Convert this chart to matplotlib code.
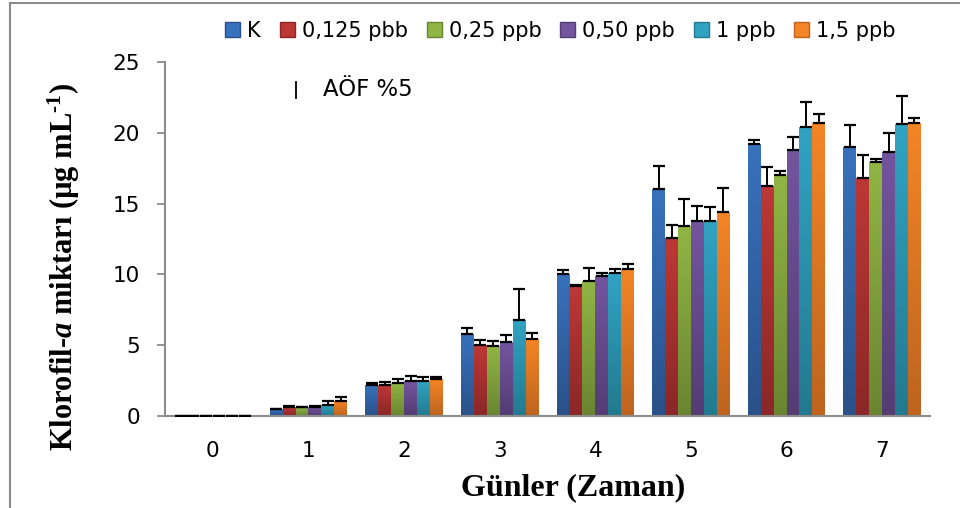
import matplotlib
matplotlib.use("Agg")
import matplotlib.pyplot as plt
from matplotlib.colors import LinearSegmentedColormap
from matplotlib.lines import Line2D
import numpy as np

# ---- data ----
days = ["0", "1", "2", "3", "4", "5", "6", "7"]
groups = ["K", "0,125 pbb", "0,25 ppb", "0,50 ppb", "1 ppb", "1,5 ppb"]

k_vals = [0.03, 0.47, 2.19, 5.79, 10.02, 16.02, 19.20, 19.03]
p0125_vals = [0.03, 0.66, 2.19, 4.99, 9.17, 12.54, 16.23, 16.80]
p025_vals = [0.03, 0.62, 2.33, 4.92, 9.53, 13.41, 17.00, 17.93]
p050_vals = [0.03, 0.66, 2.47, 5.22, 9.88, 13.76, 18.77, 18.63]
p1_vals = [0.03, 0.78, 2.47, 6.75, 10.09, 13.76, 20.44, 20.60]
p15_vals = [0.03, 1.06, 2.61, 5.43, 10.37, 14.40, 20.68, 20.68]

k_err = [0, 0.02, 0.14, 0.42, 0.31, 1.62, 0.30, 1.55]
p0125_err = [0, 0.02, 0.19, 0.37, 0.05, 0.96, 1.34, 1.62]
p025_err = [0, 0.02, 0.30, 0.35, 0.89, 1.90, 0.29, 0.21]
p050_err = [0, 0.02, 0.33, 0.47, 0.24, 1.04, 0.92, 1.34]
p1_err = [0, 0.30, 0.28, 2.24, 0.26, 1.02, 1.72, 2.00]
p15_err = [0, 0.30, 0.17, 0.43, 0.36, 1.69, 0.63, 0.35]

series = [k_vals, p0125_vals, p025_vals, p050_vals, p1_vals, p15_vals]
errors = [k_err, p0125_err, p025_err, p050_err, p1_err, p15_err]

# top / bottom colours of the Excel gradient fill
TOPS = ["#3872BC", "#BC3836", "#90B544", "#73559E", "#31A3C2", "#F38526"]
BOTS = ["#2A5189", "#8B2727", "#6A8532", "#533D73", "#237A8F", "#BE6420"]
GREY = "#8C8C8C"

SANS = ["DejaVu Sans"]
plt.rcParams["mathtext.fontset"] = "custom"
plt.rcParams["mathtext.rm"] = "Liberation Serif:bold"
plt.rcParams["mathtext.it"] = "Liberation Serif:bold:italic"
plt.rcParams["mathtext.bf"] = "Liberation Serif:bold"

fig = plt.figure(figsize=(9.6, 5.08), dpi=100)
ax = fig.add_axes([165 / 960, 92 / 508, 765 / 960, 354 / 508])

x = np.arange(len(days))
w = 0.135
grad = np.linspace(1, 0, 64).reshape(-1, 1)
for i, (vals, errs) in enumerate(zip(series, errors)):
    pos = x + (i - 2.5) * w
    bars = ax.bar(pos, vals, width=w, color=TOPS[i], label=groups[i], zorder=2)
    cmap = LinearSegmentedColormap.from_list(f"g{i}", [BOTS[i], TOPS[i]])
    for b in bars:
        x0, h = b.get_x(), b.get_height()
        im = ax.imshow(grad, cmap=cmap, aspect="auto", vmin=0, vmax=1,
                       extent=[x0, x0 + w, 0, h], zorder=2.1)
        im.set_clip_path(b)
    ax.errorbar(pos, vals, yerr=[np.zeros(len(vals)), errs], fmt="none",
                ecolor="black", elinewidth=1.4, capsize=4.3, capthick=1.6, zorder=3)

ax.set_xlim(-0.5, len(days) - 0.5)
ax.set_ylim(0, 25)
ax.set_yticks([0, 5, 10, 15, 20, 25])
ax.set_xticks(x)
ax.set_xticklabels(days)
for s in ("top", "right"):
    ax.spines[s].set_visible(False)
for s in ("left", "bottom"):
    ax.spines[s].set_color(GREY)
    ax.spines[s].set_linewidth(1.5)
ax.tick_params(axis="y", length=6, width=1.3, color=GREY, pad=12,
               labelsize=15.5)
ax.tick_params(axis="x", length=0, pad=18, labelsize=15.5)
for lab in ax.get_xticklabels() + ax.get_yticklabels():
    lab.set_family(SANS)

ax.set_ylabel(r"Klorofil-$\mathit{a}$ miktarı (µg mL$^{\text{-}1}$)",
              family="Liberation Serif", fontweight="bold", fontsize=22)
ax.yaxis.set_label_coords(-0.108, 0.42)
ax.set_xlabel("Günler (Zaman)", family="Liberation Serif",
              fontweight="bold", fontsize=23)
ax.xaxis.set_label_coords(0.533, -0.163)

handles, labels = ax.get_legend_handles_labels()
leg = fig.legend(handles, labels, loc="center", bbox_to_anchor=(0.584, 0.939),
                 ncol=6, frameon=False, prop={"family": SANS, "size": 15},
                 handlelength=0.72, handleheight=0.72, handletextpad=0.34,
                 columnspacing=0.9)
for h, bot in zip(leg.legend_handles, BOTS):
    h.set_edgecolor(bot)

# LSD (AÖF %5) key
fig.add_artist(Line2D([295.5 / 960] * 2, [(508 - 82) / 508, (508 - 98) / 508],
                      color="black", lw=1.3))
fig.text(323 / 960, (508 - 89) / 508, "AÖF %5", family=SANS, fontsize=16.4,
         ha="left", va="center")

# outer frame (top and left edges visible)
fig.add_artist(Line2D([10 / 960, 10 / 960], [0, 505 / 508], color=GREY, lw=1.5))
fig.add_artist(Line2D([10 / 960, 1], [505 / 508, 505 / 508], color=GREY, lw=1.5))

fig.savefig("out.png", dpi=100, facecolor="white")
